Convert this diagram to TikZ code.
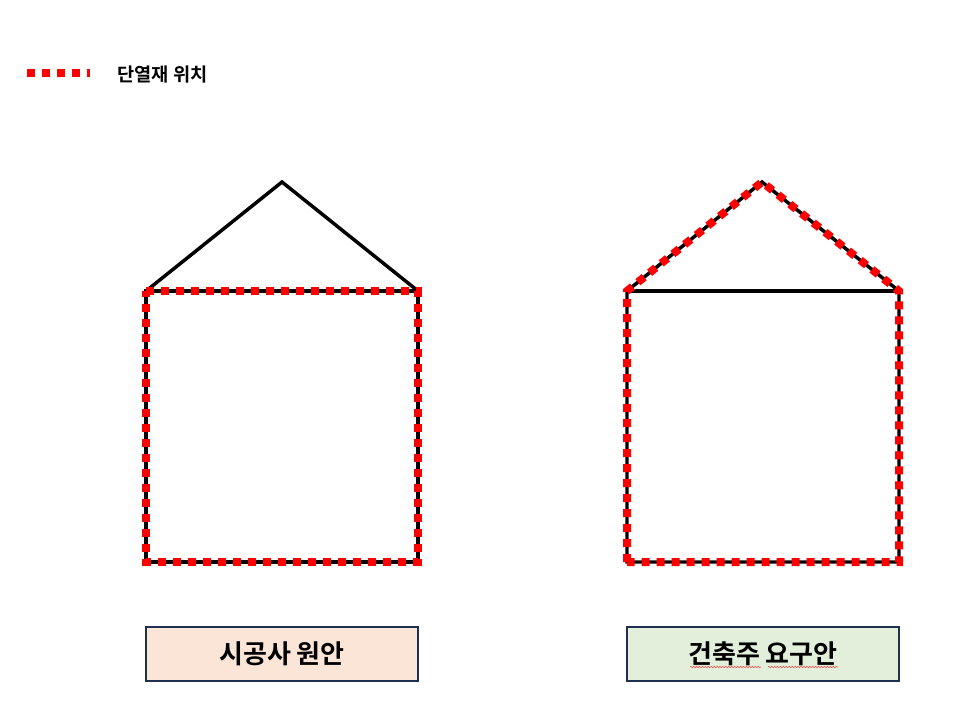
\documentclass[tikz,border=0pt]{standalone}
\usepackage{fontspec}
\setmainfont{Liberation Sans}
\newfontfamily\kr{Noto Sans CJK KR}[BoldFont={* Bold}]
\usetikzlibrary{decorations.pathmorphing}
\definecolor{insred}{RGB}{255,0,0}
\definecolor{boxline}{RGB}{31,48,80}
\definecolor{peach}{RGB}{251,229,214}
\definecolor{mint}{RGB}{226,239,218}
\tikzset{
  wall/.style={line width=2.6pt, draw=black, line join=miter},
  insul/.style={line width=6pt, draw=insred, dash pattern=on 6pt off 5.25pt},
  labelbox/.style={draw=boxline, line width=1.5pt, minimum width=204pt, minimum height=40.5pt, inner sep=0pt, font=\kr\bfseries\fontsize{19.5}{22}\selectfont},
}
\begin{document}
\begin{tikzpicture}[x=0.75pt,y=-0.75pt]
\useasboundingbox (0,0) rectangle (979,725);
% legend
\coordinate (lg1) at (27,73);
\coordinate (lg2) at (90,73);
\draw[insul] (lg1) -- (lg2);
\node[anchor=west, inner sep=0pt, font=\kr\bfseries\fontsize{14}{16}\selectfont] (legtext) at (117,74) {단열재 위치};
% left house
\coordinate (La) at (282,182);
\coordinate (Ltl) at (146,291);
\coordinate (Ltr) at (418,291);
\coordinate (Lbl) at (146,562);
\coordinate (Lbr) at (418,562);
\draw[wall] (Ltl) -- (La) -- (Ltr);
\draw[wall] (Ltl) -- (Ltr) -- (Lbr) -- (Lbl) -- cycle;
\draw[insul] (Ltl) -- (Ltr) -- (Lbr) -- (Lbl) -- cycle;
% right house
\coordinate (Ra) at (762,182);
\coordinate (Rtl) at (627,291);
\coordinate (Rtr) at (899,291);
\coordinate (Rbl) at (627,562);
\coordinate (Rbr) at (899,562);
\draw[wall] (Rtl) -- (Ra) -- (Rtr) -- (Rbr) -- (Rbl) -- cycle;
\draw[wall] (Rtl) -- (Rtr);
\draw[insul] (Rbl) -- (Rtl) -- (Ra) -- (Rtr) -- (Rbr) -- (Rbl);
% labels
\node[labelbox, fill=peach] (lab1) at (282,654) {시공사 원안};
\node[labelbox, fill=mint] (lab2) at (763,654) {건축주 요구안};
\coordinate (w1a) at (690,667);
\coordinate (w1b) at (761,667);
\coordinate (w2a) at (768,667);
\coordinate (w2b) at (838,667);
\draw[red!70, line width=0.4pt, decorate, decoration={zigzag, amplitude=0.6pt, segment length=2.2pt}] (w1a) -- (w1b);
\draw[red!70, line width=0.4pt, decorate, decoration={zigzag, amplitude=0.6pt, segment length=2.2pt}] (w2a) -- (w2b);
\end{tikzpicture}
\end{document}
